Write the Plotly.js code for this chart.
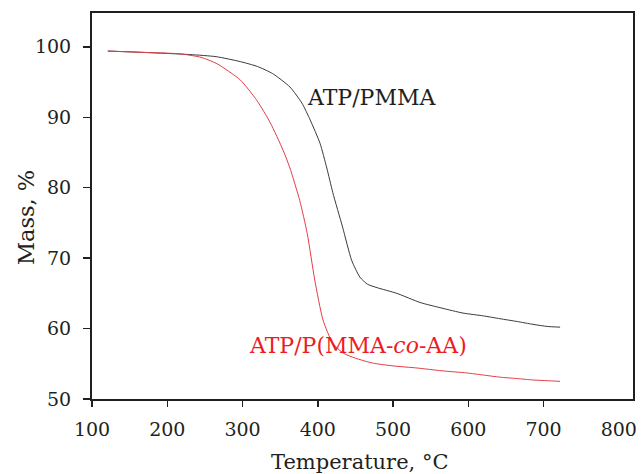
<!DOCTYPE html>
<html>
<head>
<meta charset="utf-8">
<script src="https://cdn.plot.ly/plotly-3.0.1.min.js"></script>
<style>html,body{margin:0;padding:0;background:#fff;}#chart{width:643px;height:474px;}</style>
</head>
<body>
<div id="chart"></div>
<script>
// ATP/PMMA
const tempPMMA = [121, 170, 230, 265, 297, 320, 340, 363, 379, 390, 403, 412, 420, 433, 445, 456, 466, 479, 505, 536, 565, 593, 620, 642, 665, 686, 705, 722];
const massPMMA = [99.4, 99.2, 98.9, 98.6, 97.9, 97.2, 96.2, 94.3, 92.0, 89.6, 86.3, 82.8, 79.3, 74.4, 69.7, 67.3, 66.3, 65.8, 65.0, 63.7, 62.9, 62.2, 61.8, 61.4, 61.0, 60.6, 60.3, 60.2];
// ATP/P(MMA-co-AA)
const tempAA = [121, 170, 217, 245, 266, 297, 319, 337, 354, 363, 376, 386, 396, 407, 420, 434, 450, 473, 500, 532, 565, 598, 620, 642, 665, 686, 705, 722];
const massAA = [99.4, 99.2, 99.0, 98.5, 97.6, 95.3, 92.4, 89.2, 85.3, 82.8, 78.2, 73.5, 66.9, 61.2, 57.9, 56.5, 55.8, 55.1, 54.7, 54.4, 54.0, 53.7, 53.4, 53.1, 52.9, 52.7, 52.6, 52.5];

const xTickVals = [100, 200, 300, 400, 500, 600, 700, 800];
const xTickMarks = [100, 200, 300, 400, 500, 600, 700];
const yTickVals = [50, 60, 70, 80, 90, 100];

const labelPMMA = 'ATP/PMMA';
const labelAA = 'ATP/P(MMA-<i>co</i>-AA)';
const xTitle = 'Temperature, °C';
const yTitle = 'Mass, %';

const ink = '#231f20';
const redLine = 'rgb(228,60,70)';
const redText = 'rgb(237,28,36)';
const font = 'DejaVu Serif, Liberation Serif, serif';

const traces = [
  {x: tempPMMA, y: massPMMA, mode: 'lines', line: {color: '#3a3a3a', width: 1, shape: 'spline', smoothing: 0.6}, showlegend: false, hoverinfo: 'skip'},
  {x: tempAA, y: massAA, mode: 'lines', line: {color: redLine, width: 1, shape: 'spline', smoothing: 0.6}, showlegend: false, hoverinfo: 'skip'},
  {x: [], y: [], xaxis: 'x2', mode: 'lines', showlegend: false, hoverinfo: 'skip'}
];

const xr = [100, 818.9];
const layout = {
  width: 643, height: 474,
  margin: {l: 92, r: 10, t: 13, b: 75},
  paper_bgcolor: '#fff', plot_bgcolor: '#fff',
  font: {family: font, color: ink, size: 19},
  xaxis: {
    range: xr, tickvals: xTickVals, ticks: '', ticklabelstandoff: 12, showgrid: false, zeroline: false,
    showline: true, mirror: true, linecolor: ink, linewidth: 2,
    tickfont: {family: font, size: 19, color: ink}
  },
  xaxis2: {
    range: xr, overlaying: 'x', side: 'bottom', tickvals: xTickMarks, ticks: 'outside', ticklen: 7, tickwidth: 1.5, tickcolor: ink,
    showticklabels: false, showgrid: false, zeroline: false, showline: false
  },
  yaxis: {
    range: [50, 104.8], tickvals: yTickVals, ticks: 'outside', ticklen: 7, tickwidth: 1.5, tickcolor: ink, ticklabelstandoff: 8,
    showgrid: false, zeroline: false, showline: true, mirror: true, linecolor: ink, linewidth: 2,
    tickfont: {family: font, size: 19, color: ink}
  },
  annotations: [
    {text: labelPMMA, x: 305, y: 97, xref: 'paper', yref: 'paper', showarrow: false, xanchor: 'left', yanchor: 'middle', font: {family: font, size: 22, color: ink}},
    {text: labelAA, x: 247, y: 345, xref: 'paper', yref: 'paper', showarrow: false, xanchor: 'left', yanchor: 'middle', font: {family: font, size: 22, color: redText}},
    {text: xTitle, x: 360, y: 462, xref: 'paper', yref: 'paper', showarrow: false, xanchor: 'center', yanchor: 'middle', font: {family: font, size: 21, color: ink}},
    {text: yTitle, x: 26, y: 218, xref: 'paper', yref: 'paper', showarrow: false, xanchor: 'center', yanchor: 'middle', textangle: -90, font: {family: font, size: 22.5, color: ink}}
  ]
};
// convert pixel placements for annotations to paper coords
const pw = 643 - 92 - 10, ph = 474 - 13 - 75;
layout.annotations.forEach(a => { a.x = (a.x - 92) / pw; a.y = (474 - 75 - a.y) / ph; });

Plotly.newPlot('chart', traces, layout, {staticPlot: true, displayModeBar: false});
</script>
</body>
</html>
